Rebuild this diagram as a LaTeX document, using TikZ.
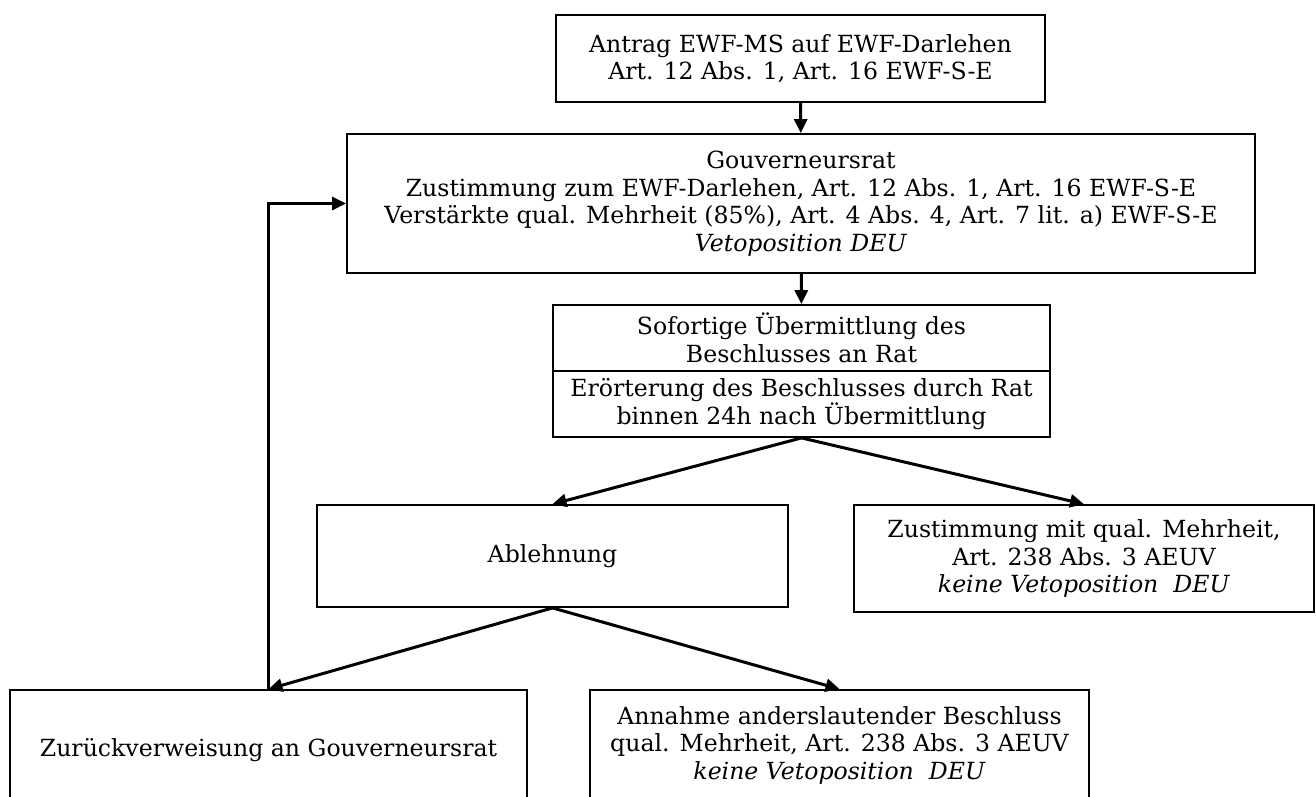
\documentclass[tikz,border=0pt]{standalone}
\usepackage{fontspec}
\setmainfont{DejaVu Serif}
\usetikzlibrary{arrows.meta}

\begin{document}
\begin{tikzpicture}[x=1pt, y=-1pt,
  box/.style={draw=black, line width=1.8pt, inner sep=0pt, align=center,
    font=\fontsize{23.6}{27.5}\selectfont},
  flow/.style={line width=3pt, -{Triangle[length=14pt,width=13pt]}}]
  \useasboundingbox (0,0) rectangle (1316,796);
  \clip (0,0) rectangle (1316,796);
  \node[box, minimum width=489pt, minimum height=87pt] (antrag) at (800.5,58.5)
    {Antrag EWF-MS auf EWF-Darlehen\\Art. 12 Abs. 1, Art. 16 EWF-S-E};
  \node[box, minimum width=908pt, minimum height=139pt] (gouv) at (801,203.5)
    {Gouverneursrat\\Zustimmung zum EWF-Darlehen, Art. 12 Abs. 1, Art. 16 EWF-S-E\\
     Verstärkte qual. Mehrheit (85\%), Art. 4 Abs. 4, Art. 7 lit. a) EWF-S-E\\
     \textit{Vetoposition DEU}};
  \node[box, minimum width=497pt, minimum height=66pt] (sofort) at (801.5,338)
    {Sofortige Übermittlung des\\Beschlusses an Rat};
  \node[box, minimum width=497pt, minimum height=66pt] (eroert) at (801.5,404)
    {Erörterung des Beschlusses durch Rat\\binnen 24h nach Übermittlung};
  \node[box, minimum width=471pt, minimum height=102pt] (ablehn) at (552.5,556)
    {Ablehnung};
  \node[box, minimum width=460pt, minimum height=107pt] (zustimm) at (1084,558.5)
    {Zustimmung mit qual. Mehrheit,\\Art. 238 Abs. 3 AEUV\\\textit{keine Vetoposition~~DEU}};
  \node[box, minimum width=517pt, minimum height=120pt] (zurueck) at (268.5,750)
    {Zurückverweisung an Gouverneursrat};
  \node[box, minimum width=499pt, minimum height=110pt] (annahme) at (839.5,745)
    {Annahme anderslautender Beschluss\\qual. Mehrheit, Art. 238 Abs. 3 AEUV\\
     \textit{keine Vetoposition~~DEU}};
  \draw[flow] (antrag) -- (gouv);
  \draw[flow] (gouv) -- (sofort);
  \draw[flow] (eroert.south) -- (ablehn.north);
  \draw[flow] (eroert.south) -- (zustimm.north);
  \draw[flow] (ablehn.south) -- (zurueck.north);
  \draw[flow] (ablehn.south) -- (annahme.north);
  \draw[flow] (zurueck.north) |- (gouv.west);
\end{tikzpicture}
\end{document}
